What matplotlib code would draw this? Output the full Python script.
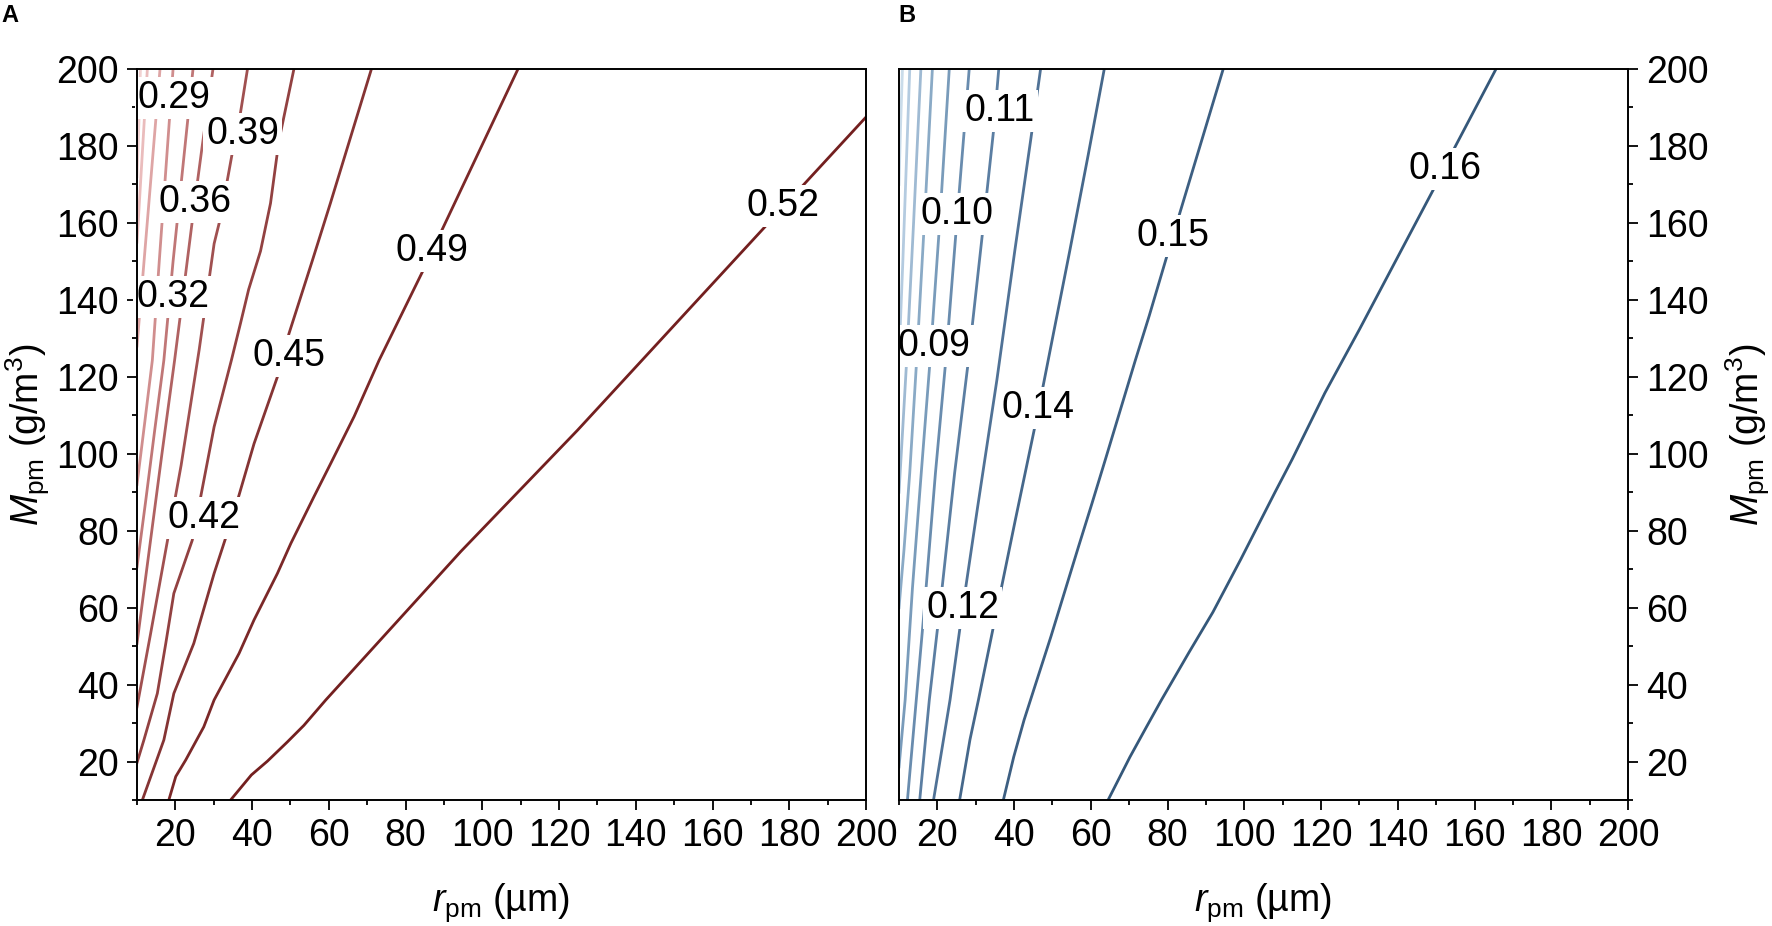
import matplotlib.pyplot as plt
from matplotlib.ticker import MultipleLocator

plt.rcParams['font.family'] = ['Liberation Sans', 'DejaVu Sans']
plt.rcParams['mathtext.fontset'] = 'custom'
plt.rcParams['mathtext.rm'] = 'Liberation Sans'
plt.rcParams['mathtext.it'] = 'Liberation Sans:italic'

# ---- panel A: contour lines (r_pm in um, M_pm in g/m3)
a019_r = [10.9, 10.5, 10.0]
a019_m = [200, 186, 172]
a023_r = [12.7, 11.8, 10.9, 10.0]
a023_m = [200, 185, 170, 155]
a026_r = [16.0, 14.5, 13.0, 11.5, 10.0]
a026_m = [200, 182, 164, 146, 128]
a029_r = [19.4, 17.6, 15.8, 14.0, 12.0, 10.0]
a029_m = [200, 175, 150, 124.3, 108, 92]
a032_r = [24.6, 22.0, 19.4, 17.0, 14.6, 12.3, 10.0]
a032_m = [200, 175, 150, 124.3, 106, 88, 70.6]
a036_r = [29.8, 27.0, 24.6, 22.2, 19.8, 16.5, 13.2, 10.0]
a036_m = [200, 180, 162, 143, 124.3, 100, 75, 50.7]
a039_r = [38.8, 37.0, 34.8, 31.8, 30.1, 26.2, 21.5, 17.5, 13.5, 10.0]
a039_m = [200, 188.8, 178, 161.5, 154.6, 127, 97, 75, 53, 34.2]
a042_r = [50.9, 47.0, 44.8, 42.2, 39.1, 37.0, 34.6, 30.1, 26.6, 24.4, 19.6,
          17.5, 15.3, 11.8, 10.0]
a042_m = [200, 181.4, 165.1, 152.7, 142.7, 134, 124.3, 107, 88.8, 77.5, 63.7,
          50.7, 37.7, 25.6, 19.7]
a045_r = [71.1, 60.4, 55.7, 49.6, 46.6, 40.5, 36.2, 33.5, 30.1, 24.8, 19.6,
          17.0, 11.4]
a045_m = [200, 165.1, 150.2, 131.2, 120, 102.6, 87.9, 79.3, 68.9, 50.7, 37.7,
          25.6, 10]
a049_r = [109.3, 89.6, 84.4, 73.1, 66.6, 60.5, 56.1, 50.1, 46.6, 40.5, 36.6,
          30.1, 27.4, 22.7, 20.1, 18.3]
a049_m = [200, 158.4, 147.3, 124.3, 109.7, 97.5, 88.8, 76.7, 68.9, 56.8, 48.1,
          36, 29, 20.4, 16.1, 10]
a052_r = [34.4, 39.8, 44.0, 49.2, 53.5, 59.2, 72.7, 94.4, 124.8, 174.8, 185.2, 200]
a052_m = [10, 16.5, 20.1, 25.1, 29.4, 36, 50.8, 74.6, 106.1, 160.2, 171.5, 187.5]

a_label_text = ['0.29', '0.32', '0.36', '0.39', '0.42', '0.45', '0.49', '0.52']
a_label_r = [19.7, 19.3, 25.0, 37.6, 27.4, 49.7, 87.0, 178.3]
a_label_m = [192.5, 140.8, 165.4, 183.2, 83.3, 125.3, 152.6, 164.5]

# ---- panel B
b005_r = [10.9, 10.4, 10.0]
b005_m = [200, 185, 170]
b006_r = [12.8, 11.9, 11.0, 10.0]
b006_m = [200, 175, 150, 125]
b007_r = [15.7, 13.8, 12.0, 11.0, 10.0]
b007_m = [200, 160, 124.3, 107, 90]
b008_r = [18.7, 16.6, 14.6, 12.8, 11.3, 10.0]
b008_m = [200, 160, 124.3, 95, 75, 60]
b009_r = [23.1, 20.6, 18.1, 15.8, 13.5, 11.6, 10.0]
b009_m = [200, 160, 124.3, 95, 65, 36, 18.6]
b010_r = [28.3, 25.2, 22.2, 19.5, 16.8, 14.5, 12.2]
b010_m = [200, 162, 124.3, 95, 62, 36, 10]
b011_r = [36.0, 34.6, 31.5, 28.1, 24.5, 21.0, 17.9, 15.4]
b011_m = [200, 183.6, 155, 124.3, 95, 63, 36, 10]
b012_r = [46.9, 44.3, 40.2, 35.5, 30.5, 26.6, 23.3, 19.0]
b012_m = [200, 181.4, 152.9, 119.1, 86.2, 59.9, 36, 10]
b014_r = [63.5, 59.3, 54.5, 50.3, 47.6, 45.3, 40.3, 34.6, 30.7, 28.5, 25.8]
b014_m = [200, 177.6, 152.7, 131.5, 117.8, 106.5, 82.7, 55.0, 36, 25.7, 10]
b015_r = [94.5, 83.2, 79.8, 75.2, 71.6, 64.0, 60.3, 56.8, 49.6, 45.4, 42.6,
          39.9, 37.2]
b015_m = [200, 162.6, 151.3, 135.8, 124.3, 99.2, 87.1, 75.9, 52.5, 39.5, 30.8,
          21.2, 10]
b016_r = [64.5, 70.2, 74.5, 78.4, 85.6, 91.8, 99.1, 108.0, 112.5, 121.0, 130.0,
          141.5, 149.3, 155.0, 165.6]
b016_m = [10, 21.2, 29, 36, 48.4, 58.8, 72.6, 90, 98.6, 115.8, 132.3,
          154, 168.7, 179.9, 200]

b_label_text = ['0.09', '0.10', '0.11', '0.12', '0.14', '0.15', '0.16']
b_label_r = [19.2, 25.1, 36.2, 26.6, 46.2, 81.5, 152.2]
b_label_m = [128.0, 162.4, 189.0, 59.9, 112.0, 156.5, 174.0]

a_lines = [(a019_r, a019_m), (a023_r, a023_m), (a026_r, a026_m), (a029_r, a029_m),
           (a032_r, a032_m), (a036_r, a036_m), (a039_r, a039_m), (a042_r, a042_m),
           (a045_r, a045_m), (a049_r, a049_m), (a052_r, a052_m)]
a_colors = ['#f2d2d2', '#eabcbc', '#dea5a5', '#d08e8e', '#c07777', '#b06262',
            '#a05050', '#924141', '#853434', '#7b2828', '#731f1f']

b_lines = [(b005_r, b005_m), (b006_r, b006_m), (b007_r, b007_m), (b008_r, b008_m),
           (b009_r, b009_m), (b010_r, b010_m), (b011_r, b011_m), (b012_r, b012_m),
           (b014_r, b014_m), (b015_r, b015_m), (b016_r, b016_m)]
b_colors = ['#cadcea', '#b4cbe0', '#9fbad3', '#8aaac6', '#799bba', '#698cae',
            '#5b7ea2', '#507296', '#46688b', '#3d5f82', '#35587a']

FS = 27


def draw_panel(ax, lines, colors, label_text, label_r, label_m):
    for (r, m), c in zip(lines, colors):
        ax.plot(r, m, color=c, lw=2.0, zorder=2)
    for t, r, m in zip(label_text, label_r, label_m):
        ax.text(r, m, t, fontsize=FS, ha='center', va='center', zorder=2.2,
                bbox=dict(boxstyle='square,pad=0.08', fc='white', ec='none'))
    ax.set_xlim(10, 200)
    ax.set_ylim(10, 200)
    ax.set_xticks(range(20, 201, 20))
    ax.set_yticks(range(20, 201, 20))
    ax.xaxis.set_minor_locator(MultipleLocator(10))
    ax.yaxis.set_minor_locator(MultipleLocator(10))
    ax.tick_params(which='major', length=7.2, width=1.3, labelsize=FS, pad=6)
    ax.tick_params(which='minor', length=3.6, width=1.3)
    for s in ax.spines.values():
        s.set_linewidth(1.4)
        s.set_zorder(3)
    ax.set_xlabel(r'$\mathit{r}_{\mathrm{pm}}$ (µm)', fontsize=FS)
    ax.xaxis.label.set_va('center')
    ax.xaxis.set_label_coords(0.5, -0.14)
    ax.set_ylabel(r'$\mathit{M}_{\mathrm{pm}}$ (g/m$^{3}$)', fontsize=FS)
    ax.yaxis.label.set_va('center')


fig = plt.figure(figsize=(17.72, 9.26), dpi=100)
ax1 = fig.add_axes([137 / 1772, 126 / 926, 729 / 1772, 731 / 926])
ax2 = fig.add_axes([899 / 1772, 126 / 926, 729 / 1772, 731 / 926])

draw_panel(ax1, a_lines, a_colors, a_label_text, a_label_r, a_label_m)
ax1.yaxis.set_label_coords(-0.150, 0.5)

draw_panel(ax2, b_lines, b_colors, b_label_text, b_label_r, b_label_m)
ax2.yaxis.tick_right()
ax2.yaxis.set_label_position('right')
ax2.yaxis.label.set_va('center')
ax2.yaxis.set_label_coords(1.165, 0.5)

fig.text(1 / 1772, 1 - 15 / 926, 'A', fontsize=17, fontweight='bold', va='center')
fig.text(898 / 1772, 1 - 15 / 926, 'B', fontsize=17, fontweight='bold', va='center')

fig.savefig('out.png', dpi=100)
